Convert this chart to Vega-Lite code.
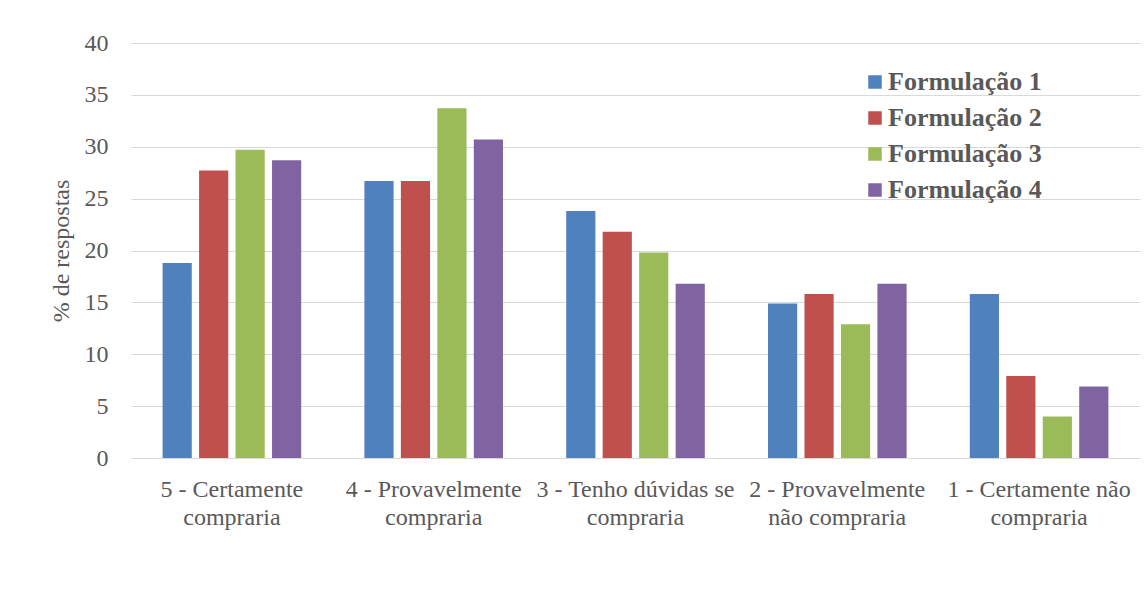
{
  "$schema": "https://vega.github.io/schema/vega-lite/v6.json",
  "width": 1009,
  "height": 415,
  "autosize": {"type": "none"},
  "padding": {"left": 131, "top": 43, "right": 7, "bottom": 138},
  "background": "white",
  "data": {
    "values": [
      {"categoria": "5 - Certamente compraria", "formulacao": "Formulação 1", "pct": 18.8},
      {"categoria": "5 - Certamente compraria", "formulacao": "Formulação 2", "pct": 27.7},
      {"categoria": "5 - Certamente compraria", "formulacao": "Formulação 3", "pct": 29.7},
      {"categoria": "5 - Certamente compraria", "formulacao": "Formulação 4", "pct": 28.7},
      {"categoria": "4 - Provavelmente compraria", "formulacao": "Formulação 1", "pct": 26.7},
      {"categoria": "4 - Provavelmente compraria", "formulacao": "Formulação 2", "pct": 26.7},
      {"categoria": "4 - Provavelmente compraria", "formulacao": "Formulação 3", "pct": 33.7},
      {"categoria": "4 - Provavelmente compraria", "formulacao": "Formulação 4", "pct": 30.7},
      {"categoria": "3 - Tenho dúvidas se compraria", "formulacao": "Formulação 1", "pct": 23.8},
      {"categoria": "3 - Tenho dúvidas se compraria", "formulacao": "Formulação 2", "pct": 21.8},
      {"categoria": "3 - Tenho dúvidas se compraria", "formulacao": "Formulação 3", "pct": 19.8},
      {"categoria": "3 - Tenho dúvidas se compraria", "formulacao": "Formulação 4", "pct": 16.8},
      {"categoria": "2 - Provavelmente não compraria", "formulacao": "Formulação 1", "pct": 14.9},
      {"categoria": "2 - Provavelmente não compraria", "formulacao": "Formulação 2", "pct": 15.8},
      {"categoria": "2 - Provavelmente não compraria", "formulacao": "Formulação 3", "pct": 12.9},
      {"categoria": "2 - Provavelmente não compraria", "formulacao": "Formulação 4", "pct": 16.8},
      {"categoria": "1 - Certamente não compraria", "formulacao": "Formulação 1", "pct": 15.8},
      {"categoria": "1 - Certamente não compraria", "formulacao": "Formulação 2", "pct": 7.9},
      {"categoria": "1 - Certamente não compraria", "formulacao": "Formulação 3", "pct": 4.0},
      {"categoria": "1 - Certamente não compraria", "formulacao": "Formulação 4", "pct": 6.9}
    ]
  },
  "mark": {"type": "bar"},
  "encoding": {
    "x": {
      "field": "categoria",
      "type": "nominal",
      "sort": null,
      "scale": {"paddingInner": 0.277, "paddingOuter": 0.1385},
      "axis": {
        "title": null,
        "labelAngle": 0,
        "labelFont": "Liberation Serif",
        "labelFontSize": 24,
        "labelColor": "#595959",
        "labelPadding": 19,
        "labelLineHeight": 28,
        "labelBaseline": "top",
        "labelLimit": 0,
        "ticks": false,
        "domain": true,
        "domainColor": "#d9d9d9",
        "domainWidth": 1,
        "labelExpr": "datum.value == '5 - Certamente compraria' ? ['5 - Certamente', 'compraria'] : datum.value == '4 - Provavelmente compraria' ? ['4 - Provavelmente', 'compraria'] : datum.value == '3 - Tenho dúvidas se compraria' ? ['3 - Tenho dúvidas se', 'compraria'] : datum.value == '2 - Provavelmente não compraria' ? ['2 - Provavelmente', 'não compraria'] : ['1 - Certamente não', 'compraria']"
      }
    },
    "xOffset": {
      "field": "formulacao",
      "type": "nominal",
      "scale": {"paddingInner": 0.2, "paddingOuter": 0.1}
    },
    "y": {
      "field": "pct",
      "type": "quantitative",
      "scale": {"domain": [0, 40], "nice": false},
      "axis": {
        "title": "% de respostas",
        "titleFont": "Liberation Serif",
        "titleFontSize": 24,
        "titleFontWeight": "normal",
        "titleColor": "#595959",
        "titlePadding": 11,
        "values": [0, 5, 10, 15, 20, 25, 30, 35, 40],
        "labelFont": "Liberation Serif",
        "labelFontSize": 24,
        "labelColor": "#595959",
        "labelPadding": 23,
        "ticks": false,
        "domain": false,
        "grid": true,
        "gridColor": "#d9d9d9",
        "gridWidth": 1
      }
    },
    "color": {
      "field": "formulacao",
      "type": "nominal",
      "scale": {
        "domain": ["Formulação 1", "Formulação 2", "Formulação 3", "Formulação 4"],
        "range": ["#4F81BD", "#C0504D", "#9BBB59", "#8064A2"]
      },
      "legend": {
        "title": null,
        "orient": "none",
        "legendX": 731,
        "legendY": 26,
        "padding": 0,
        "symbolType": "square",
        "symbolSize": 182,
        "symbolStrokeWidth": 0,
        "labelFont": "Liberation Serif",
        "labelFontSize": 26,
        "labelFontWeight": "bold",
        "labelColor": "#595959",
        "labelOffset": 0,
        "rowPadding": 10,
        "labelLimit": 0
      }
    }
  },
  "config": {
    "view": {"stroke": null}
  }
}
